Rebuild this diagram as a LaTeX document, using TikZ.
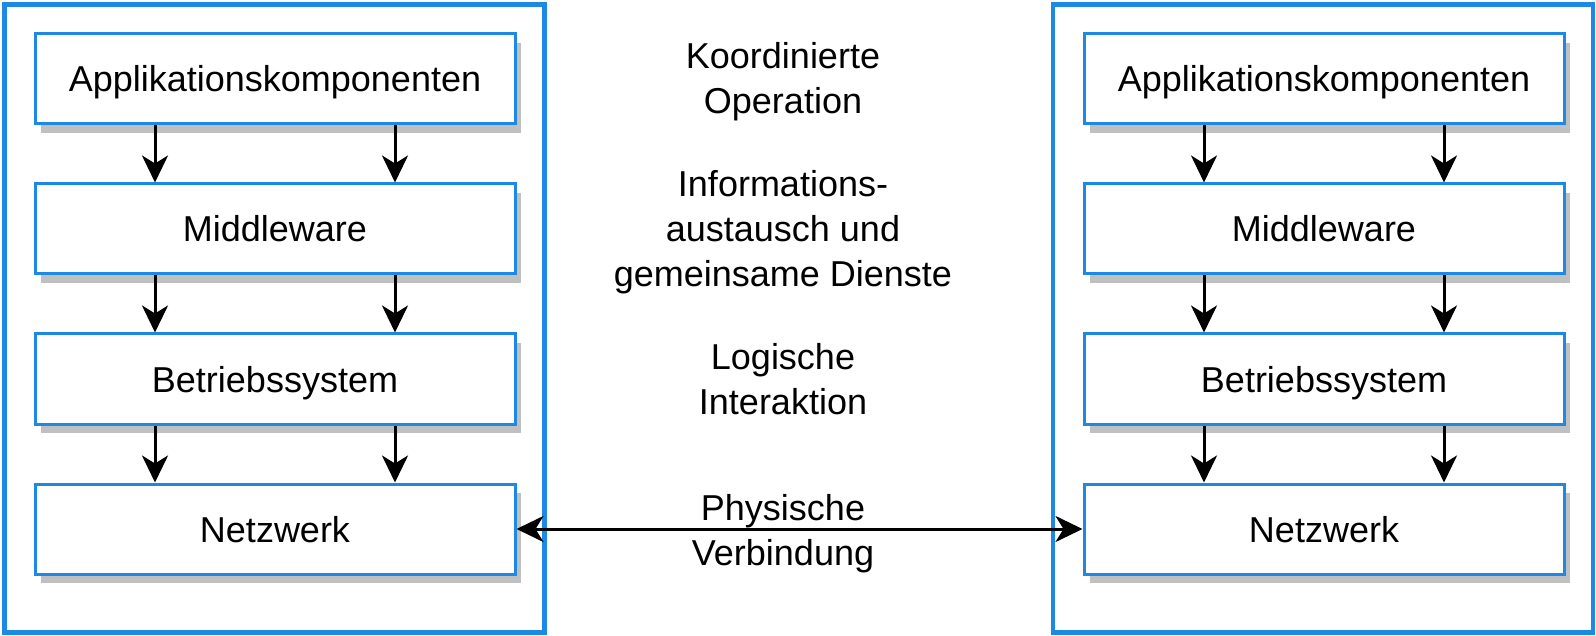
\documentclass[tikz,border=0pt]{standalone}
\usepackage{fontspec}
\setmainfont{Liberation Sans}
\usetikzlibrary{arrows.meta,shadows}
\definecolor{dblue}{RGB}{30,136,229}
\definecolor{shadowgray}{RGB}{192,192,192}
\tikzset{
  outerbox/.style={draw=dblue, line width=4.5pt, minimum width=540pt, minimum height=628pt, inner sep=0pt},
  layerbox/.style={draw=dblue, line width=3pt, fill=white, minimum width=480pt, minimum height=90pt, inner sep=0pt,
    font=\fontsize{36}{43}\selectfont, text height=27pt, text depth=1pt,
    drop shadow={shadow xshift=6pt, shadow yshift=-9pt, fill=shadowgray, opacity=1}},
  midtext/.style={align=center, inner sep=0pt, font=\fontsize{36}{45}\selectfont},
  arr/.style={line width=3pt, -{Stealth[length=27pt, width=26pt, inset=8pt]}},
  darr/.style={line width=3pt, {Stealth[length=27pt, width=26pt, inset=8pt]}-{Stealth[length=27pt, width=26pt, inset=8pt]}}
}
\begin{document}
\begin{tikzpicture}[x=1pt, y=-1pt]
\useasboundingbox (0,0) rectangle (1596,636);
\node[outerbox] (L) at (274.5,318.5) {};
\node[outerbox] (R) at (1323,318.5) {};
% left column
\node[layerbox] (la1) at (275,79) {Applikationskomponenten};
\node[layerbox] (la2) at (275,229) {Middleware};
\node[layerbox] (la3) at (275,379) {Betriebssystem};
\node[layerbox] (la4) at (275,529) {Netzwerk};
% right column
\node[layerbox] (ra1) at (1324,79) {Applikationskomponenten};
\node[layerbox] (ra2) at (1324,229) {Middleware};
\node[layerbox] (ra3) at (1324,379) {Betriebssystem};
\node[layerbox] (ra4) at (1324,529) {Netzwerk};
% middle labels
\node[midtext] (t1) at (783,82) {Koordinierte\\Operation};
\node[midtext] (t2) at (783,232) {Informations-\\austausch und\\gemeinsame Dienste};
\node[midtext] (t3) at (783,379) {Logische\\Interaktion};
\node[midtext] (t4) at (783,534) {Physische\\Verbindung};
% arrows
\foreach \a/\b in {la1/la2, la2/la3, la3/la4, ra1/ra2, ra2/ra3, ra3/ra4}{
  \draw[arr] ([xshift=-120pt]\a.south) -- ([xshift=-120pt]\b.north);
  \draw[arr] ([xshift=120pt]\a.south) -- ([xshift=120pt]\b.north);
}
\draw[darr] (la4.east) -- (ra4.west);
\end{tikzpicture}
\end{document}
